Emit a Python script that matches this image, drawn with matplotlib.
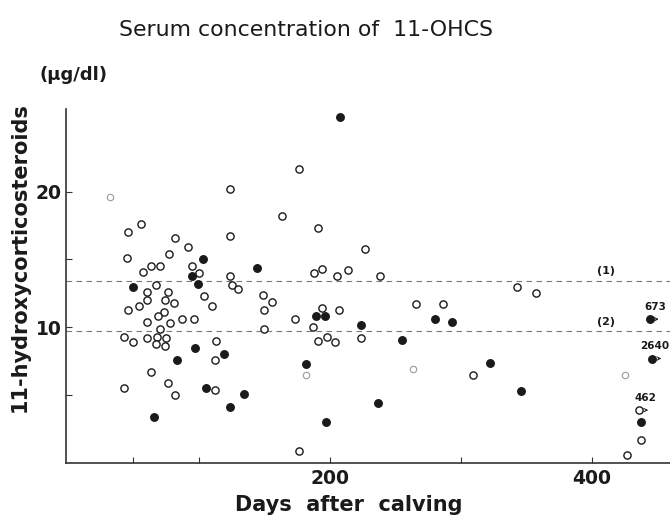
import matplotlib
matplotlib.use("Agg")
import matplotlib.pyplot as plt

# ------------------------------------------------------------------
# Data (days after calving, ug/dl)
# ------------------------------------------------------------------
open_days = [124, 56, 46, 124, 82, 92, 45, 77, 63, 70, 95, 57, 100, 124, 67, 125,
             130, 60, 76, 104, 60, 74, 81, 110, 54, 46, 73, 69, 60, 87, 96, 78,
             70, 43, 50, 60, 68, 75, 67, 74, 113, 112, 63, 76, 43, 82, 112,
             176, 163, 191, 227, 194, 188, 205, 214, 238, 149, 156, 150, 150,
             173, 194, 207, 187, 191, 198, 204, 224, 266, 286, 176, 309, 343,
             357, 436, 437, 427]
open_vals = [20.2, 17.6, 17.0, 16.7, 16.6, 15.9, 15.1, 15.4, 14.5, 14.5, 14.5, 14.1,
             14.0, 13.8, 13.1, 13.1, 12.8, 12.6, 12.6, 12.3, 12.0, 12.0, 11.8, 11.6,
             11.6, 11.3, 11.1, 10.8, 10.4, 10.6, 10.6, 10.3, 9.9, 9.3, 8.9, 9.2,
             9.3, 9.2, 8.8, 8.6, 9.0, 7.6, 6.7, 5.9, 5.5, 5.0, 5.4,
             21.7, 18.2, 17.3, 15.8, 14.3, 14.0, 13.8, 14.2, 13.8, 12.4, 11.9,
             11.3, 9.9, 10.6, 11.4, 11.3, 10.0, 9.0, 9.3, 8.9, 9.2, 11.7, 11.7,
             0.9, 6.5, 13.0, 12.5, 3.9, 1.7, 0.6]

faint_days = [32, 182, 263, 425]
faint_vals = [19.6, 6.5, 6.9, 6.5]

filled_days = [103, 95, 99, 50, 97, 83, 119, 105, 124, 66, 144, 134, 208, 189,
               196, 224, 255, 280, 293, 182, 237, 197, 322, 346, 444, 446, 437]
filled_vals = [15.0, 13.8, 13.2, 13.0, 8.5, 7.6, 8.0, 5.5, 4.1, 3.4, 14.4, 5.1,
               25.5, 10.8, 10.8, 10.2, 9.1, 10.6, 10.4, 7.3, 4.4, 3.0, 7.4, 5.3,
               10.6, 7.7, 3.0]

# points whose true value lies beyond the plotted range (day, value, label)
arrow_days = [444, 446, 436]
arrow_vals = [10.6, 7.7, 3.9]
arrow_labels = ["673", "2640", "462"]

ref_levels = [13.4, 9.7]
ref_labels = ["(1)", "(2)"]

BOLD = dict(family=["DejaVu Sans"], fontweight="bold")
INK = "#1a1a1a"

fig = plt.figure(figsize=(6.7, 5.17), dpi=100)
fig.patch.set_facecolor("white")
ax = fig.add_axes([0.0985, 0.1044, 0.9015, 0.685])

for spine in ("top", "right"):
    ax.spines[spine].set_visible(False)
for spine in ("left", "bottom"):
    ax.spines[spine].set_linewidth(1.2)
    ax.spines[spine].set_color("#333333")

# reference lines
for lvl, lab in zip(ref_levels, ref_labels):
    ax.axhline(lvl, color="#777777", lw=0.8, ls=(0, (5, 4)), zorder=1)
    ax.text(411, lvl + 0.35, lab, fontsize=8, color=INK, ha="center",
            va="bottom", **BOLD)

ax.plot(open_days, open_vals, "o", ms=5.2, mfc="white", mec=INK, mew=1.0, zorder=3)
ax.plot(faint_days, faint_vals, "o", ms=4.6, mfc="white", mec="#9a9a9a",
        mew=0.8, zorder=3)
ax.plot(filled_days, filled_vals, "o", ms=5.4, mfc=INK, mec=INK, zorder=4)

for d, v, lab in zip(arrow_days, arrow_vals, arrow_labels):
    ax.annotate("", xy=(d + 9, v), xytext=(d + 2.5, v),
                arrowprops=dict(arrowstyle="->", lw=0.7, color=INK,
                                mutation_scale=6))
    ax.text(d + 13, v + 0.55, lab, fontsize=7.5, color=INK, ha="right",
            va="bottom", **BOLD)

ax.set_xlim(-1.5, 459.5)
ax.set_ylim(0, 26.1)

ax.set_xticks([50, 100, 200, 300, 400])
ax.set_xticklabels(["", "", "200", "", "400"])
ax.set_yticks([5, 10, 15, 20])
ax.set_yticklabels(["", "10", "", "20"])
ax.tick_params(direction="in", length=4, width=0.8, colors="#333333")
for lbl in ax.get_xticklabels() + ax.get_yticklabels():
    lbl.set_fontsize(13.5)
    lbl.set_fontweight("bold")
    lbl.set_color(INK)
ax.tick_params(axis="x", pad=4)
ax.tick_params(axis="y", pad=3)

fig.text(0.457, 0.942, "Serum concentration of  11-OHCS", fontsize=15.8,
         ha="center", va="center", color=INK)
fig.text(0.11, 0.855, "(\u03bcg/dl)", fontsize=13, ha="center", va="center",
         color=INK, **BOLD)
fig.text(0.03, 0.503, "11-hydroxycorticosteroids", fontsize=15, rotation=90,
         ha="center", va="center", color=INK, **BOLD)
fig.text(0.52, 0.023, "Days  after  calving", fontsize=15, ha="center",
         va="center", color=INK, **BOLD)

fig.savefig("out.png", dpi=100, facecolor="white")
